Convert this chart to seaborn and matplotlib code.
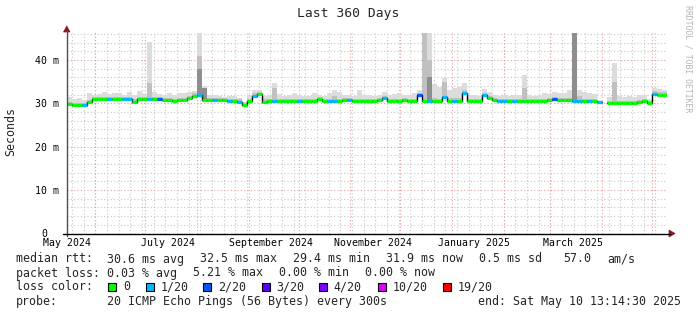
import numpy as np
import pandas as pd
import matplotlib
matplotlib.use("Agg")
import matplotlib.pyplot as plt
import seaborn as sns
from matplotlib.patches import Rectangle, Polygon
from matplotlib.transforms import ScaledTranslation

# ---------------- data ----------------
end_time = pd.Timestamp("2025-05-10 13:14:30")
span_days = 360
bin_days = 3

median_ms = [
    29.8, 29.6, 29.6, 29.6, 30.3, 30.9, 30.9, 30.9, 30.9, 30.9,
    30.9, 30.9, 30.9, 30.4, 30.9, 30.9, 30.9, 30.9, 30.9, 30.8,
    30.8, 30.5, 30.8, 30.8, 31.2, 31.7, 31.8, 30.8, 30.8, 30.8,
    30.7, 30.7, 30.6, 30.6, 30.4, 29.5, 30.6, 31.7, 32.2, 30.4,
    30.5, 30.6, 30.5, 30.5, 30.5, 30.6, 30.6, 30.5, 30.6, 30.6,
    30.9, 30.6, 30.6, 30.6, 30.6, 30.7, 30.7, 30.6, 30.6, 30.5,
    30.6, 30.6, 30.7, 31.2, 30.6, 30.6, 30.6, 30.8, 30.5, 30.6,
    31.8, 30.5, 30.5, 30.5, 30.5, 31.4, 30.5, 30.5, 30.5, 32.4,
    30.5, 30.5, 30.6, 31.9, 31.2, 30.7, 30.5, 30.5, 30.5, 30.5,
    30.5, 30.6, 30.6, 30.6, 30.6, 30.6, 30.7, 30.9, 30.7, 30.7,
    30.7, 30.5, 30.5, 30.6, 30.5, 30.5, 30.3, np.nan, 30.0, 30.0,
    30.0, 30.0, 30.0, 30.0, 30.3, 30.6, 30.0, 32.2, 31.8, 31.9,
]
loss_idx = [
    0, 0, 0, 1, 0, 0, 0, 0, 1, 0,
    0, 1, 1, 0, 0, 0, 1, 0, 2, 0,
    0, 0, 0, 0, 0, 0, 1, 0, 0, 1,
    0, 0, 1, 0, 1, 0, 0, 1, 0, 0,
    0, 1, 0, 0, 0, 0, 1, 0, 0, 0,
    0, 0, 1, 1, 0, 0, 1, 0, 0, 0,
    0, 0, 0, 1, 0, 0, 0, 0, 0, 0,
    2, 0, 1, 0, 0, 1, 0, 1, 0, 1,
    0, 0, 0, 1, 0, 0, 1, 1, 0, 1,
    0, 0, 0, 0, 0, 0, 0, 2, 0, 0,
    0, 1, 1, 0, 1, 0, 1, 0, 0, 0,
    0, 0, 0, 0, 0, 0, 0, 1, 0, 0,
]
smoke_hi = [
    31.4, 31.0, 31.2, 30.8, 32.3, 32.0, 32.2, 32.6, 32.2, 32.4,
    32.3, 32.0, 32.6, 31.8, 32.9, 32.2, 44.1, 32.5, 32.2, 32.0,
    32.3, 32.0, 32.4, 32.3, 32.6, 32.8, 46.2, 34.0, 32.0, 31.8,
    31.6, 31.5, 31.6, 31.7, 31.3, 30.4, 31.8, 33.0, 33.0, 31.6,
    31.9, 34.6, 32.2, 31.6, 32.0, 32.4, 31.8, 31.6, 31.7, 32.3,
    31.9, 31.7, 32.4, 33.0, 32.6, 31.8, 32.0, 31.6, 33.0, 32.0,
    31.8, 31.6, 32.0, 32.6, 32.0, 32.2, 32.4, 32.0, 31.8, 32.4,
    33.0, 46.2, 46.2, 34.5, 33.8, 35.8, 33.0, 33.5, 33.8, 34.6,
    32.0, 31.8, 31.6, 33.3, 32.6, 32.0, 31.6, 31.8, 31.6, 31.8,
    31.8, 36.5, 31.8, 31.7, 32.0, 32.4, 32.2, 32.5, 32.3, 32.4,
    33.0, 46.2, 33.0, 32.6, 32.4, 32.2, 31.5, np.nan, 31.4, 39.2,
    31.6, 31.4, 31.6, 31.5, 31.8, 32.0, 31.0, 33.5, 33.3, 33.0,
]
smoke_mid = [
    30.2, 30.0, 30.0, 30.0, 30.8, 31.4, 31.4, 31.5, 31.4, 31.4,
    31.4, 31.4, 31.5, 30.9, 31.5, 31.4, 34.6, 31.4, 31.4, 31.3,
    31.3, 31.0, 31.3, 31.3, 31.7, 32.3, 41.0, 33.5, 31.3, 31.3,
    31.2, 31.2, 31.1, 31.1, 30.9, 30.0, 31.1, 32.3, 32.7, 30.9,
    31.0, 33.5, 31.0, 31.0, 31.0, 31.1, 31.1, 31.0, 31.1, 31.1,
    31.4, 31.1, 31.1, 31.6, 31.1, 31.2, 31.2, 31.1, 31.1, 31.0,
    31.1, 31.1, 31.2, 31.7, 31.1, 31.1, 31.1, 31.3, 31.0, 31.1,
    32.3, 46.2, 40.0, 31.3, 31.0, 35.0, 31.2, 31.2, 31.3, 33.0,
    31.0, 31.0, 31.1, 32.4, 31.7, 31.2, 31.0, 31.0, 31.0, 31.0,
    31.0, 33.5, 31.1, 31.1, 31.1, 31.1, 31.2, 31.4, 31.2, 31.2,
    31.3, 46.2, 31.6, 31.1, 31.0, 31.0, 30.8, np.nan, 30.5, 35.0,
    30.5, 30.5, 30.5, 30.5, 30.8, 31.1, 30.5, 32.8, 32.6, 32.5,
]
smoke_dark = [0] * 120
for _i, _v in {26: 38.0, 27: 33.5, 72: 36.0, 101: 46.2}.items():
    smoke_dark[_i] = _v

loss_labels = ["0", "1/20", "2/20", "3/20", "4/20", "10/20", "19/20"]
loss_colors = ["#00ff00", "#00b8ff", "#0059ff", "#5e00ff", "#7e00ff", "#dd00ff", "#ff0000"]

y_ticks = [0, 10, 20, 30, 40]
y_tick_labels = ["0", "10 m", "20 m", "30 m", "40 m"]

title = "Last 360 Days"
y_label = "Seconds"
rtt_head = "median rtt:"
rtt_stats = ["30.6 ms avg", "32.5 ms max", "29.4 ms min", "31.9 ms now", "0.5 ms sd", "57.0", "am/s"]
loss_head = "packet loss:"
loss_stats = ["0.03 % avg", "5.21 % max", "0.00 % min", "0.00 % now"]
color_head = "loss color:"
probe_head = "probe:"
probe_text = "20 ICMP Echo Pings (56 Bytes) every 300s"
end_text = "end: Sat May 10 13:14:30 2025"
watermark = "RRDTOOL / TOBI OETIKER"

# ---------------- derived ----------------
start_time = end_time - pd.Timedelta(days=span_days)
n = len(median_ms)
starts = pd.DatetimeIndex([start_time + pd.Timedelta(days=bin_days * i) for i in range(n)])
ends = starts + pd.Timedelta(days=bin_days)
edges = starts.append(pd.DatetimeIndex([ends[-1]]))
med = np.array(median_ms, dtype=float)

def ext(a):
    a = np.asarray(a, dtype=float)
    return np.append(a, a[-1])

# ---------------- figure ----------------
sns.set_theme(style="white")
plt.rcParams["font.family"] = ["DejaVu Sans Mono", "DejaVu Sans"]
W, H = 697, 315
fig = plt.figure(figsize=(W / 100, H / 100), dpi=100)
fig.patch.set_facecolor("white")
L, R, T, B = 67, 667, 33, 233.5
ax = fig.add_axes([L / W, 1 - B / H, (R - L) / W, (B - T) / H])
ax.set_facecolor("white")
ax.set_xlim(start_time, end_time)
ax.set_ylim(0, 46.2)

def fx(x):
    return x / W

def fy(y):
    return 1 - y / H

# grid
dot = (0, (1, 2))
for d in pd.date_range(start_time, end_time, freq="W-SAT"):
    ax.axvline(d, color="#c8c8c8", lw=0.8, ls=dot, zorder=0.5)
for d in pd.date_range(start_time, end_time, freq="MS"):
    ax.axvline(d, color="#e8a0a0", lw=0.8, ls=dot, zorder=0.6)
for v in np.arange(2, 47, 2):
    if v % 10:
        ax.axhline(v, color="#c8c8c8", lw=0.8, ls=dot, zorder=0.5)
for v in y_ticks[1:]:
    ax.axhline(v, color="#e8a0a0", lw=0.8, ls=dot, zorder=0.6)

# smoke
lo = ext(med - 0.2)
ax.fill_between(edges, lo, ext(smoke_hi), step="post", color="#dcdcdc", lw=0, zorder=1)
ax.fill_between(edges, lo, np.maximum(ext(smoke_mid), lo), step="post", color="#c0c0c0", lw=0, zorder=1.1)
ax.fill_between(edges, lo, np.maximum(ext(smoke_dark), lo), step="post", color="#8e8e8e", lw=0, zorder=1.2)

# black median step line (seaborn), split at gaps
seg = np.cumsum(np.isnan(med))
rows = []
for s in np.unique(seg):
    idx = np.where((seg == s) & ~np.isnan(med))[0]
    if len(idx) == 0:
        continue
    for i in idx:
        rows.append((starts[i], med[i], s))
    rows.append((ends[idx[-1]], med[idx[-1]], s))
df = pd.DataFrame(rows, columns=["time", "median", "seg"])
sns.lineplot(data=df, x="time", y="median", units="seg", estimator=None,
             drawstyle="steps-post", color="black", lw=1.0, ax=ax, zorder=3)

# coloured median by loss
ok = ~np.isnan(med)
ax.hlines(med[ok], starts[ok], ends[ok],
          colors=[loss_colors[k] for k in np.array(loss_idx)[ok]], lw=2.3, zorder=4)

# axes decoration
for s in ax.spines.values():
    s.set_visible(False)
ax.set_xlabel("")
ax.set_ylabel("")
ax.set_yticks(y_ticks, labels=y_tick_labels)
ax.tick_params(axis="y", length=0, pad=5.5, labelsize=7.1, colors="black")
lab0 = ax.get_yticklabels()[0]
lab0.set_transform(lab0.get_transform() + ScaledTranslation(-11.6 / 100, 0.8 / 100, fig.dpi_scale_trans))

label_dates = pd.date_range(start_time.normalize().replace(day=1), end_time, freq="2MS") + pd.Timedelta(days=14)
label_dates = [max(d, start_time) for d in label_dates if d <= end_time]
ax.set_xticks(label_dates, labels=[d.strftime("%B %Y") for d in label_dates])
ax.tick_params(axis="x", length=0, pad=3, labelsize=7.1, colors="black")

# axis lines and arrows
fig.add_artist(plt.Line2D([fx(L - 0.5), fx(L - 0.5)], [fy(236), fy(31)], color="#505050", lw=1.0))
fig.add_artist(plt.Line2D([fx(63), fx(670)], [fy(B), fy(B)], color="black", lw=1.0))
fig.add_artist(Polygon([(fx(63.5), fy(32)), (fx(70), fy(32)), (fx(66.8), fy(26))],
                       closed=True, facecolor="#8b1a1a", edgecolor="#8b1a1a", lw=0.5))
fig.add_artist(Polygon([(fx(669), fy(230)), (fx(669), fy(237)), (fx(675), fy(233.5))],
                       closed=True, facecolor="#8b1a1a", edgecolor="#8b1a1a", lw=0.5))

# texts
fig.text(fx(348), fy(14), title, ha="center", va="center", fontsize=9.4)
fig.text(fx(11), fy(131), y_label, rotation=90, ha="center", va="center", fontsize=8.4)
fig.text(fx(688), fy(59), watermark, rotation=270, ha="center", va="center",
         fontsize=5.9, color="#b4b4b4")

fs = 8.4
fig.text(fx(16), fy(259), rtt_head, ha="left", va="center", fontsize=fs)
for x, t in zip([107.3, 200, 292.7, 386, 479, 563.3, 607.3], rtt_stats):
    fig.text(fx(x), fy(259), t, ha="left", va="center", fontsize=fs)
fig.text(fx(16), fy(273), loss_head, ha="left", va="center", fontsize=fs)
for x, t in zip([107.3, 193.3, 279.3, 365], loss_stats):
    fig.text(fx(x), fy(273), t, ha="left", va="center", fontsize=fs)
fig.text(fx(16), fy(287), color_head, ha="left", va="center", fontsize=fs)
for x, lbl, col in zip([108.3, 145.7, 203.3, 262, 319.3, 378.3, 442.7], loss_labels, loss_colors):
    fig.add_artist(Rectangle((fx(x), fy(291)), 8 / W, 8 / H, facecolor=col,
                             edgecolor="black", lw=0.8))
    fig.text(fx(x + 14.5), fy(287), lbl, ha="left", va="center", fontsize=fs)
fig.text(fx(16), fy(301), probe_head, ha="left", va="center", fontsize=fs)
fig.text(fx(107.3), fy(301), probe_text, ha="left", va="center", fontsize=fs)
fig.text(fx(478.3), fy(301), end_text, ha="left", va="center", fontsize=fs)

fig.savefig("out.png", dpi=100, facecolor="white")
